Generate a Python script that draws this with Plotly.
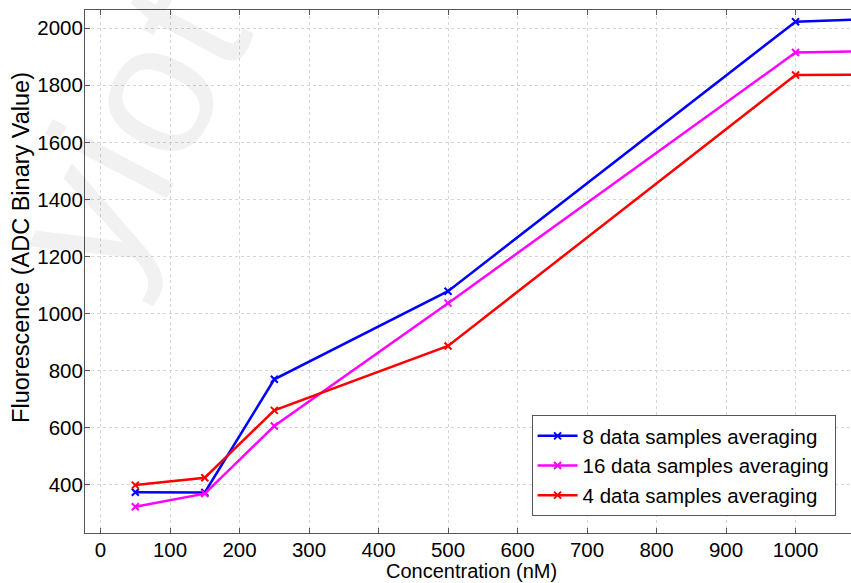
import plotly.graph_objects as go

# concentration (nM); last point lies past the visible edge of the axes
concentration = [50, 150, 250, 500, 1000, 1100]

avg_8 = [373, 372, 769, 1078, 2023, 2031]
avg_16 = [322, 368, 605, 1036, 1915, 1919]
avg_4 = [398, 424, 660, 886, 1836, 1837]

series_names = ['8 data samples averaging',
                '16 data samples averaging',
                '4 data samples averaging']
series_colors = ['#0000ff', '#ff00ff', '#ff0000']

x_ticks = list(range(0, 1001, 100))
y_ticks = list(range(400, 2001, 200))

FONT = 'Arial, Liberation Sans, sans-serif'

fig = go.Figure()
for name, values, colour in zip(series_names, [avg_8, avg_16, avg_4], series_colors):
    fig.add_trace(go.Scatter(x=concentration, y=values, name=name, mode='lines+markers',
                             line=dict(color=colour, width=2.5),
                             marker=dict(symbol='x-thin', size=7,
                                         line=dict(color=colour, width=2))))

# faint watermark in the background
fig.add_annotation(text='yiot', xref='paper', yref='paper', x=0.055, y=0.767,
                   xanchor='center', yanchor='middle',
                   showarrow=False, textangle=-62,
                   font=dict(family=FONT, size=190, color='rgba(0,0,0,0.055)'))

# axis titles
fig.add_annotation(text='Concentration (nM)', xref='paper', yref='paper',
                   x=0.504, y=-0.0727, xanchor='center', yanchor='middle', showarrow=False,
                   font=dict(family=FONT, size=20, color='black'))
fig.add_annotation(text='Fluorescence (ADC Binary Value)', xref='paper', yref='paper',
                   x=-0.0836, y=0.547, xanchor='center', yanchor='middle', showarrow=False,
                   textangle=-90, font=dict(family=FONT, size=23.5, color='black'))

axis_style = dict(showline=True, linecolor='#555555', linewidth=1,
                  ticks='inside', ticklen=5, tickcolor='#555555',
                  showgrid=True, gridcolor='#d6d6d6', griddash='dot', gridwidth=1,
                  zeroline=False, automargin=False,
                  tickfont=dict(family=FONT, size=20.5, color='black'))

fig.update_xaxes(range=[-22.4, 1079.8], tickvals=x_ticks, mirror='ticks',
                 ticklabelstandoff=-2, **axis_style)
fig.update_yaxes(range=[230, 2064], tickvals=y_ticks, ticklabelstandoff=-3, **axis_style)

fig.update_layout(width=851, height=583,
                  margin=dict(l=85, r=0, t=10, b=50),
                  paper_bgcolor='white', plot_bgcolor='white',
                  showlegend=True,
                  legend=dict(x=0.583, y=0.2256, xanchor='left', yanchor='top',
                              bgcolor='white', bordercolor='#555555', borderwidth=1,
                              font=dict(family=FONT, size=20.5, color='black'),
                              tracegroupgap=0, itemwidth=40))

# drop the page's default body margin so the figure fills the window exactly
fig.write_html('out.html', config={'displayModeBar': False},
               post_script="document.body.style.margin='0';")
